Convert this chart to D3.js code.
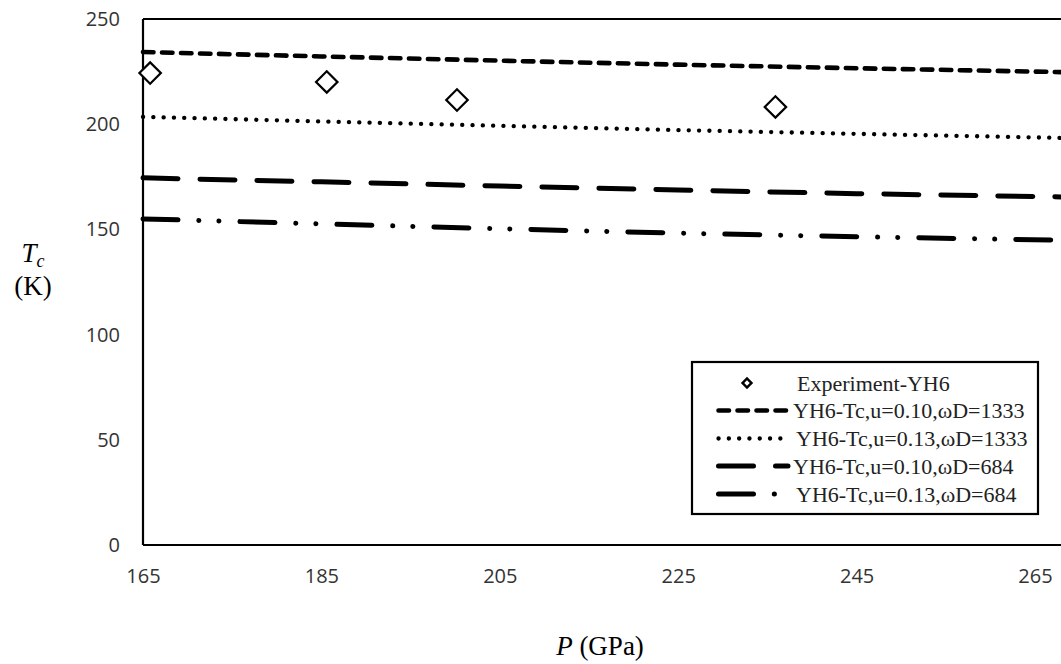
<!DOCTYPE html>
<html>
<head>
<meta charset="utf-8">
<script src="https://cdn.jsdelivr.net/npm/d3@7"></script>
<style>
  html, body { margin: 0; padding: 0; background: #fff; }
  svg { display: block; }
</style>
</head>
<body>
<svg id="chart" width="1061" height="664"></svg>
<script>
// pressure grid (GPa) for the model curves
const pressures = [165, 185, 205, 225, 245, 270];

// model curves, Tc in K
const tcU010W1333 = [234.3, 232.2, 230.2, 228.3, 226.6, 224.6];
const tcU013W1333 = [203.5, 201.3, 199.2, 197.2, 195.4, 193.3];
const tcU010W684 = [174.5, 172.6, 170.6, 168.7, 167.0, 165.3];
const tcU013W684 = [155.0, 152.6, 150.3, 148.2, 146.5, 144.7];

// experiment points
const expPressure = [165.8, 185.6, 200.2, 235.9];
const expTc = [224.3, 220.1, 211.5, 208.2];

const xTicks = [165, 185, 205, 225, 245, 265];
const yTicks = [0, 50, 100, 150, 200, 250];

const seriesNames = [
    "Experiment-YH6",
    "YH6-Tc,u=0.10,\u03c9D=1333",
    "YH6-Tc,u=0.13,\u03c9D=1333",
    "YH6-Tc,u=0.10,\u03c9D=684",
    "YH6-Tc,u=0.13,\u03c9D=684"
];

// line styles (stroke width + dash pattern)
const styles = [
    { w: 4.6, dash: "10.5,8.5" },
    { w: 4.3, dash: "0.1,10.2" },
    { w: 5, dash: "35,22" },
    { w: 5, dash: "35,20.8,0.1,20,0.1,21" }
];

const svg = d3.select("#chart");

const x = d3.scaleLinear().domain([165, 265]).range([143, 1035]);
const y = d3.scaleLinear().domain([0, 250]).range([545, 19]);

const tickFont = "'Open Sans', 'DejaVu Sans', sans-serif";
const serif = "'Liberation Serif', 'Times New Roman', serif";

// -----------------------------
// axes
// -----------------------------
const xAxis = svg.append("g")
    .attr("transform", `translate(0,${y(0)})`)
    .call(d3.axisBottom(x).tickValues(xTicks).tickSize(0).tickPadding(24));
xAxis.select(".domain").remove();
xAxis.selectAll("text")
    .style("font-family", tickFont)
    .style("font-size", "20px")
    .attr("fill", "#333");

const yAxis = svg.append("g")
    .attr("transform", `translate(${x(165)},0)`)
    .call(d3.axisLeft(y).tickValues(yTicks).tickSize(0).tickPadding(23));
yAxis.select(".domain").remove();
yAxis.selectAll("text")
    .style("font-family", tickFont)
    .style("font-size", "20px")
    .attr("fill", "#333");

// plot frame: left, top and bottom (right side runs off the page)
const frame = svg.append("g").attr("fill", "none").attr("stroke", "#000").attr("stroke-width", 2.2);
frame.append("line").attr("x1", x(165)).attr("x2", x(165)).attr("y1", y(250)).attr("y2", y(0));
frame.append("line").attr("x1", x(165)).attr("x2", 1070).attr("y1", y(250)).attr("y2", y(250));
frame.append("line").attr("x1", x(165)).attr("x2", 1070).attr("y1", y(0)).attr("y2", y(0));

// -----------------------------
// model curves
// -----------------------------
const curves = [tcU010W1333, tcU013W1333, tcU010W684, tcU013W684];
const line = d3.line().x((d, i) => x(pressures[i])).y(d => y(d));

curves.forEach((vals, k) => {
    svg.append("path")
        .datum(vals)
        .attr("d", line)
        .attr("fill", "none")
        .attr("stroke", "#000")
        .attr("stroke-width", styles[k].w)
        .attr("stroke-linecap", "round")
        .attr("stroke-dasharray", styles[k].dash);
});

// experiment markers (square rotated 45deg)
const bigDiamond = d3.symbol().type(d3.symbolSquare).size(230);
svg.append("g").selectAll("path")
    .data(expTc)
    .join("path")
    .attr("d", bigDiamond)
    .attr("transform", (d, i) => `translate(${x(expPressure[i])},${y(d)}) rotate(45)`)
    .attr("fill", "#fff")
    .attr("stroke", "#000")
    .attr("stroke-width", 2.2);

// -----------------------------
// legend
// -----------------------------
const legend = svg.append("g");
legend.append("rect")
    .attr("x", 692).attr("y", 362)
    .attr("width", 346).attr("height", 152)
    .attr("fill", "#fff")
    .attr("stroke", "#000")
    .attr("stroke-width", 2.2);

const rowY = [383, 410.5, 438.5, 466, 494];

legend.append("path")
    .attr("d", d3.symbol().type(d3.symbolSquare).size(40))
    .attr("transform", `translate(747,${rowY[0]}) rotate(45)`)
    .attr("fill", "#fff")
    .attr("stroke", "#000")
    .attr("stroke-width", 2.4);

const sampleEnds = [789, 782, 788, 776];
styles.forEach((s, k) => {
    legend.append("line")
        .attr("x1", 718.5).attr("x2", sampleEnds[k])
        .attr("y1", rowY[k + 1]).attr("y2", rowY[k + 1])
        .attr("stroke", "#000")
        .attr("stroke-width", s.w)
        .attr("stroke-linecap", "round")
        .attr("stroke-dasharray", s.dash);
});

const textX = [797, 793, 796, 793, 796];
seriesNames.forEach((name, k) => {
    legend.append("text")
        .attr("x", textX[k])
        .attr("y", rowY[k])
        .attr("dy", "0.35em")
        .style("font-family", serif)
        .style("font-size", "22px")
        .attr("fill", "#222")
        .text(name);
});

// -----------------------------
// axis titles
// -----------------------------
const yTitle = svg.append("text")
    .attr("x", 33)
    .attr("y", 262)
    .attr("text-anchor", "middle")
    .style("font-family", serif)
    .style("font-size", "27px")
    .attr("fill", "#000");
yTitle.append("tspan").style("font-style", "italic").text("T");
yTitle.append("tspan").style("font-style", "italic").style("font-size", "18px").attr("dy", 5).text("c");

svg.append("text")
    .attr("x", 33)
    .attr("y", 295)
    .attr("text-anchor", "middle")
    .style("font-family", serif)
    .style("font-size", "27px")
    .attr("fill", "#000")
    .text("(K)");

const xTitle = svg.append("text")
    .attr("x", 600)
    .attr("y", 655)
    .attr("text-anchor", "middle")
    .style("font-family", serif)
    .style("font-size", "27px")
    .attr("fill", "#000");
xTitle.append("tspan").style("font-style", "italic").text("P");
xTitle.append("tspan").text(" (GPa)");
</script>
</body>
</html>
